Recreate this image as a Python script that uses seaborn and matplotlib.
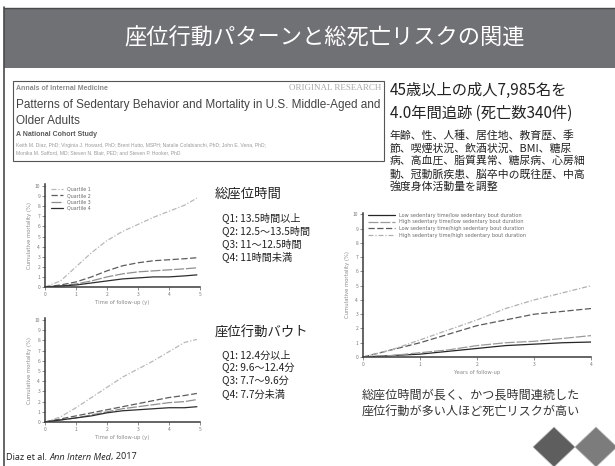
import numpy as np
import pandas as pd
import matplotlib
matplotlib.use("Agg")
import matplotlib.pyplot as plt
from matplotlib.patches import Rectangle, Polygon
import seaborn as sns

W, H = 615, 466

# ---- cumulative mortality (%) by quartile of total sedentary time ----
sit_years = [0, 0.5, 1, 1.5, 2, 2.5, 3, 3.5, 4, 4.5, 4.9]
sit_q1 = [0, 0.6, 2.0, 3.4, 4.6, 5.5, 6.2, 6.9, 7.5, 8.1, 8.8]
sit_q2 = [0, 0.2, 0.5, 1.0, 1.6, 2.1, 2.4, 2.6, 2.7, 2.8, 2.9]
sit_q3 = [0, 0.1, 0.3, 0.6, 1.0, 1.3, 1.5, 1.6, 1.7, 1.8, 1.9]
sit_q4 = [0, 0.1, 0.2, 0.4, 0.6, 0.8, 0.9, 1.0, 1.0, 1.1, 1.2]

# ---- cumulative mortality (%) by quartile of sedentary bout duration ----
bout_years = [0, 0.5, 1, 1.5, 2, 2.5, 3, 3.5, 4, 4.5, 4.9]
bout_q1 = [0, 0.5, 1.4, 2.4, 3.4, 4.4, 5.2, 6.0, 6.9, 7.8, 8.1]
bout_q2 = [0, 0.3, 0.6, 0.9, 1.2, 1.5, 1.8, 2.1, 2.4, 2.6, 2.8]
bout_q3 = [0, 0.2, 0.4, 0.7, 1.0, 1.3, 1.5, 1.7, 1.9, 2.0, 2.2]
bout_q4 = [0, 0.2, 0.4, 0.6, 0.9, 1.1, 1.2, 1.3, 1.4, 1.4, 1.5]
quartile_labels = ["Quartile 1", "Quartile 2", "Quartile 3", "Quartile 4"]

# ---- joint categories: total time x bout duration ----
joint_years = [0, 0.5, 1, 1.5, 2, 2.5, 3, 3.5, 4]
low_low = [0, 0.1, 0.2, 0.4, 0.6, 0.8, 0.9, 1.0, 1.05]
high_low = [0, 0.1, 0.3, 0.5, 0.8, 1.0, 1.1, 1.3, 1.5]
low_high = [0, 0.5, 1.0, 1.6, 2.2, 2.6, 3.0, 3.2, 3.4]
high_high = [0, 0.5, 1.2, 1.9, 2.6, 3.4, 4.0, 4.5, 5.0]
joint_labels = [
    "Low sedentary time/low sedentary bout duration",
    "High sedentary time/low sedentary bout duration",
    "Low sedentary time/high sedentary bout duration",
    "High sedentary time/high sedentary bout duration",
]

sns.set_theme(style="white")
plt.rcParams["font.family"] = ["Noto Sans CJK JP", "DejaVu Sans"]

fig = plt.figure(figsize=(W / 100, H / 100), dpi=100)
fig.patch.set_facecolor("white")


def fx(x):
    return x / W


def fy(y):
    return 1 - y / H


def axes_px(x0, y0, x1, y1):
    return fig.add_axes([fx(x0), fy(y1), (x1 - x0) / W, (y1 - y0) / H])


def long_frame(years, series, labels):
    rows = []
    for lab, vals in zip(labels, series):
        for yr, v in zip(years, vals):
            rows.append({"year": yr, "mort": v, "group": lab})
    return pd.DataFrame(rows)


def style_mini(ax, xmax, ymax, xlabel, ylabel):
    ax.set_xlim(0, xmax)
    ax.set_ylim(0, ymax)
    ax.set_xticks(range(0, int(xmax) + 1))
    ax.set_yticks(range(0, 11))
    ax.tick_params(bottom=True, left=True, length=2, width=0.6, pad=1.5,
                   labelsize=3.5, colors="#7a7a7a")
    for s in ["top", "right"]:
        ax.spines[s].set_visible(False)
    for s in ["left", "bottom"]:
        ax.spines[s].set_color("#3a3a3a")
        ax.spines[s].set_linewidth(1.1)
    ax.set_xlabel(xlabel, fontsize=3.8, color="#8a8a8a", labelpad=2,
                  family="DejaVu Sans")
    ax.set_ylabel(ylabel, fontsize=3.8, color="#8a8a8a", labelpad=2,
                  family="DejaVu Sans")
    ax.set_facecolor("none")


quart_palette = ["#b8b8b8", "#5c5c5c", "#8f8f8f", "#2e2e2e"]
quart_dashes = [(4, 1.5, 1, 1.5), (5, 2), (8, 1.5), ""]

# ---- header band and slide frame ----
fig.add_artist(Rectangle((fx(4), fy(68)), (W - 4) / W, 60 / H,
                         transform=fig.transFigure, facecolor="#707175",
                         edgecolor="none"))
fig.add_artist(plt.Line2D([fx(4), 1], [fy(7.5), fy(7.5)], color="#4a4a4a",
                          lw=1.0, transform=fig.transFigure))
fig.add_artist(plt.Line2D([fx(4), fx(4)], [fy(7), 0], color="#4a4a4a",
                          lw=1.2, transform=fig.transFigure))
fig.text(fx(325), fy(38), "座位行動パターンと総死亡リスクの関連", color="white",
         fontsize=16, ha="center", va="center")

# ---- article header box ----
fig.add_artist(Rectangle((fx(13), fy(161)), 371 / W, 80 / H,
                         transform=fig.transFigure, facecolor="white",
                         edgecolor="#555555", lw=0.8))
sans = ["Liberation Sans", "DejaVu Sans"]
fig.text(fx(16), fy(88), "Annals of Internal Medicine", fontsize=5.0,
         color="#8a8a8a", fontweight="bold", family=sans, va="center")
fig.text(fx(381), fy(88), "ORIGINAL RESEARCH", fontsize=6.5, color="#a8a8a8",
         family=["Liberation Serif", "DejaVu Serif"], ha="right", va="center")
fig.text(fx(16), fy(105),
         "Patterns of Sedentary Behavior and Mortality in U.S. Middle-Aged and",
         fontsize=8.5, color="#444444", family=sans, va="center")
fig.text(fx(16), fy(121), "Older Adults", fontsize=8.5, color="#444444",
         family=sans, va="center")
fig.text(fx(16), fy(134), "A National Cohort Study", fontsize=5.0,
         color="#5a5a5a", fontweight="bold", family=sans, va="center")
fig.text(fx(16), fy(145),
         "Keith M. Diaz, PhD; Virginia J. Howard, PhD; Brent Hutto, MSPH; Natalie Colabianchi, PhD; John E. Vena, PhD;",
         fontsize=3.6, color="#9a9a9a", family=sans, va="center")
fig.text(fx(16), fy(153),
         "Monika M. Safford, MD; Steven N. Blair, PED; and Steven P. Hooker, PhD",
         fontsize=3.6, color="#9a9a9a", family=sans, va="center")

# ---- study summary ----
fig.text(fx(390), fy(90), "45歳以上の成人7,985名を", fontsize=11,
         color="#222222", va="center")
fig.text(fx(390), fy(113), "4.0年間追跡 (死亡数340件)", fontsize=11,
         color="#222222", va="center")
adjust_lines = ["年齢、性、人種、居住地、教育歴、季",
                "節、喫煙状況、飲酒状況、BMI、糖尿",
                "病、高血圧、脂質異常、糖尿病、心房細",
                "動、冠動脈疾患、脳卒中の既往歴、中高",
                "強度身体活動量を調整"]
for i, line in enumerate(adjust_lines):
    fig.text(fx(390), fy(135 + 13 * i), line, fontsize=7.8, color="#222222",
             va="center")

# ---- total sedentary time chart ----
ax1 = axes_px(45, 184, 200, 287)
df1 = long_frame(sit_years, [sit_q1, sit_q2, sit_q3, sit_q4], quartile_labels)
sns.lineplot(data=df1, x="year", y="mort", hue="group", style="group",
             palette=quart_palette, dashes=quart_dashes, lw=0.9, ax=ax1)
style_mini(ax1, 5, 10.2, "Time of follow-up (y)", "Cumulative mortality (%)")
leg = ax1.legend(loc="upper left", bbox_to_anchor=(0.02, 1.0),
                 frameon=False, handlelength=2.6, labelspacing=0.25,
                 borderaxespad=0.2, prop={"family": "DejaVu Sans", "size": 3.4})
for t in leg.get_texts():
    t.set_color("#6a6a6a")

fig.text(fx(215), fy(194), "総座位時間", fontsize=9.6, color="#222222",
         va="center")
sit_text = ["Q1: 13.5時間以上", "Q2: 12.5〜13.5時間", "Q3: 11〜12.5時間",
            "Q4: 11時間未満"]
for i, line in enumerate(sit_text):
    fig.text(fx(222), fy(218 + 13 * i), line, fontsize=7.3, color="#222222",
             va="center")

# ---- sedentary bout duration chart ----
ax2 = axes_px(45, 318, 200, 422)
df2 = long_frame(bout_years, [bout_q1, bout_q2, bout_q3, bout_q4], quartile_labels)
sns.lineplot(data=df2, x="year", y="mort", hue="group", style="group",
             palette=quart_palette, dashes=quart_dashes, lw=0.9, ax=ax2,
             legend=False)
style_mini(ax2, 5, 10.2, "Time of follow-up (y)", "Cumulative mortality (%)")

fig.text(fx(215), fy(333), "座位行動バウト", fontsize=9.6, color="#222222",
         va="center")
bout_text = ["Q1: 12.4分以上", "Q2: 9.6〜12.4分", "Q3: 7.7〜9.6分", "Q4: 7.7分未満"]
for i, line in enumerate(bout_text):
    fig.text(fx(222), fy(355 + 13 * i), line, fontsize=7.3, color="#222222",
             va="center")

# ---- joint association chart ----
ax3 = axes_px(363, 213, 591, 357)
df3 = long_frame(joint_years, [low_low, high_low, low_high, high_high], joint_labels)
sns.lineplot(data=df3, x="year", y="mort", hue="group", style="group",
             palette=["#262626", "#9a9a9a", "#5a5a5a", "#b0b0b0"],
             dashes=["", (8, 1.5), (5, 2), (4, 1.5, 1, 1.5)], lw=0.9, ax=ax3)
style_mini(ax3, 4, 10.1, "Years of follow-up", "Cumulative mortality (%)")
leg3 = ax3.legend(loc="upper left", bbox_to_anchor=(0.01, 1.02), frameon=False,
                  handlelength=5.5, labelspacing=0.35, borderaxespad=0.1,
                  prop={"family": "DejaVu Sans", "size": 3.6})
for t in leg3.get_texts():
    t.set_color("#6a6a6a")

fig.text(fx(362), fy(395), "総座位時間が長く、かつ長時間連続した", fontsize=8.7,
         color="#333333", va="center")
fig.text(fx(362), fy(412), "座位行動が多い人ほど死亡リスクが高い", fontsize=8.7,
         color="#333333", va="center")

# ---- citation: plain / italic / plain pieces laid end to end ----
renderer = fig.canvas.get_renderer()
cite_x = 6.0
for piece, sty in [("Diaz et al. ", "normal"), ("Ann Intern Med", "italic"),
                   (", 2017", "normal")]:
    t = fig.text(fx(cite_x), fy(457), piece, fontsize=6.6, color="#222222",
                 va="center", style=sty,
                 family=["Open Sans", "DejaVu Sans"])
    cite_x += t.get_window_extent(renderer).width

# ---- society marks ----
for cx, col in [(554, "#5e5e5e"), (596, "#7c7c7c")]:
    pts = [(fx(cx), fy(427)), (fx(cx + 21), fy(447)), (fx(cx), fy(467)),
           (fx(cx - 21), fy(447))]
    fig.add_artist(Polygon(pts, closed=True, transform=fig.transFigure,
                           facecolor=col, edgecolor="#bbbbbb", lw=0.5))

fig.savefig("out.png", dpi=100)
